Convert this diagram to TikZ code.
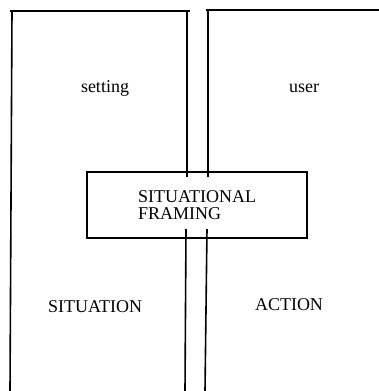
\documentclass[tikz,border=0pt]{standalone}
\usepackage{fontspec}
\setmainfont{Liberation Serif}
\begin{document}
\begin{tikzpicture}[x=1pt,y=-1pt, line width=1.6pt,
  lower/.style={font=\fontsize{18}{18}\selectfont, anchor=base, inner sep=0},
  upper/.style={font=\fontsize{18}{17}\selectfont, anchor=base, inner sep=0},
  framebox/.style={draw, minimum width=220pt, minimum height=66pt, inner sep=0, align=left,
    font=\fontsize{18}{17}\selectfont}]
\useasboundingbox (0,0) rectangle (379,391);
\fill[white] (0,0) rectangle (379,391);
% left box
\coordinate (ltl) at (10,11);
\coordinate (ltr) at (190,11);
\coordinate (lltop) at (12,11);
\coordinate (llbot) at (10,391);
\coordinate (lrtop) at (187,11);
\coordinate (lrin) at (187,177);
\coordinate (lrin2) at (186,229);
\coordinate (lrbot) at (185,391);
% right box
\coordinate (rtl) at (206,10);
\coordinate (rtr) at (379,10);
\coordinate (rltop) at (208,10);
\coordinate (rlin) at (208,177);
\coordinate (rlin2) at (207,229);
\coordinate (rlbot) at (205,391);
% framing box
\node[framebox] (frame) at (197,205) {SITUATIONAL\\FRAMING};
\draw (ltl) -- (ltr);
\draw (lltop) -- (llbot);
\draw (lrtop) -- (lrin);
\draw (lrin2) -- (lrbot);
\draw (rtl) -- (rtr);
\draw (rltop) -- (rlin);
\draw (rlin2) -- (rlbot);
% labels
\node[lower] (setting) at (105,92) {setting};
\node[lower] (user) at (304,92) {user};
\node[upper] (situation) at (95,312) {SITUATION};
\node[upper] (action) at (289,310) {ACTION};
\end{tikzpicture}
\end{document}
